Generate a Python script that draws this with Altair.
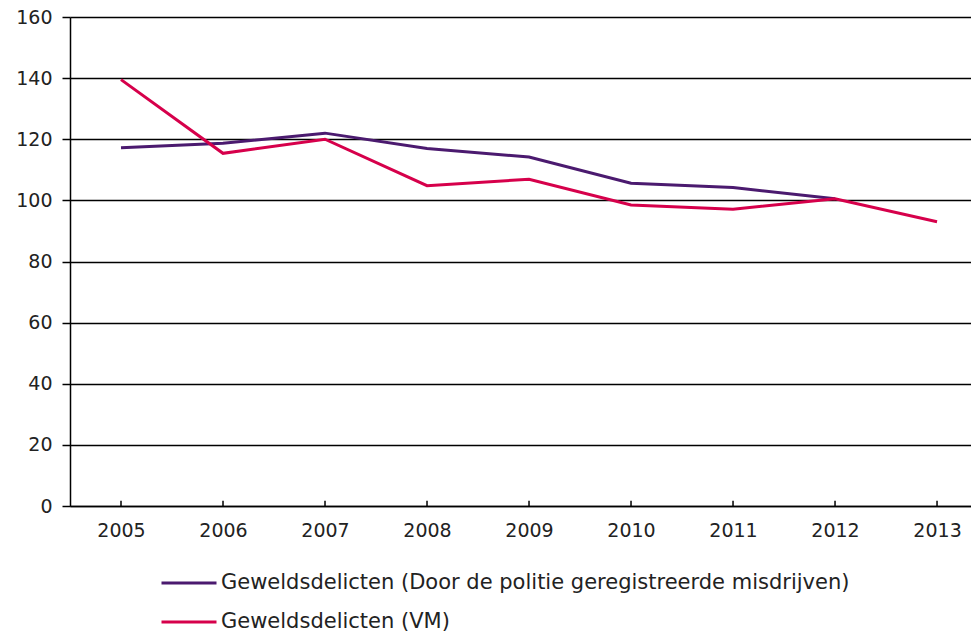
import altair as alt
import pandas as pd

years = [2005, 2006, 2007, 2008, 2009, 2010, 2011, 2012, 2013]
politie = [117.2, 118.7, 122.0, 117.0, 114.2, 105.6, 104.2, 100.5, None]
vm = [139.5, 115.4, 120.0, 104.8, 106.9, 98.5, 97.1, 100.5, 93.0]
series_names = [
    "Geweldsdelicten (Door de politie geregistreerde misdrijven)",
    "Geweldsdelicten (VM)",
]
colors = ["#4b1a6f", "#d6004b"]
y_ticks = [0, 20, 40, 60, 80, 100, 120, 140, 160]

rows = []
for name, vals in zip(series_names, [politie, vm]):
    for yr, v in zip(years, vals):
        if v is not None:
            rows.append({"jaar": yr, "waarde": v, "reeks": name})
df = pd.DataFrame(rows)
ticks_df = pd.DataFrame({"jaar": years})

FONT = "DejaVu Sans"

x_scale = alt.Scale(domain=[2004.5, 2013.333], nice=False, zero=False)
y_scale = alt.Scale(domain=[0, 160], nice=False)

lines = alt.Chart(df).mark_line(strokeWidth=3).encode(
    x=alt.X("jaar:Q", scale=x_scale,
            axis=alt.Axis(values=years, format="d", title=None, grid=False,
                          ticks=False, labelPadding=15, labelFontSize=19,
                          labelFont=FONT, labelColor="#222222",
                          domainColor="#000000", domainWidth=1.5)),
    y=alt.Y("waarde:Q", scale=y_scale,
            axis=alt.Axis(values=y_ticks, title=None, grid=True,
                          gridColor="#000000", gridWidth=1.5,
                          tickSize=8, tickColor="#000000", tickWidth=1.5,
                          labelPadding=10, labelFontSize=19, labelFont=FONT,
                          labelColor="#222222",
                          domainColor="#000000", domainWidth=1.5)),
    color=alt.Color("reeks:N", sort=series_names,
                    scale=alt.Scale(domain=series_names, range=colors),
                    legend=alt.Legend(title=None, orient="none",
                                      legendX=90, legendY=537,
                                      direction="vertical",
                                      symbolType="stroke",
                                      symbolSize=3025, symbolStrokeWidth=3,
                                      labelFontSize=21, labelFont=FONT,
                                      labelColor="#222222", labelOffset=3,
                                      rowPadding=-4, labelLimit=900)),
)

xticks = alt.Chart(ticks_df).mark_rule(color="#000000", strokeWidth=1.5).encode(
    x=alt.X("jaar:Q", scale=x_scale),
    y=alt.datum(0),
    y2=alt.datum(1.7),
)

chart = alt.layer(xticks, lines).properties(
    width=901,
    height=489,
    padding={"left": 62, "top": 9, "right": 0, "bottom": 129},
    autosize=alt.AutoSizeParams(type="none"),
).configure_view(stroke=None).configure(background="#ffffff")

chart.save("out.html", embed_options={"renderer": "svg", "actions": False})
